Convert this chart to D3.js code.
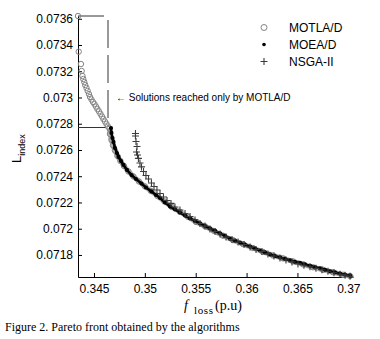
<!DOCTYPE html>
<html>
<head>
<meta charset="utf-8">
<style>
  body { margin: 0; background: #fff; }
</style>
</head>
<body>
<script src="https://cdn.jsdelivr.net/npm/d3@7"></script>
<script>

  const width = 380,
        height = 339

  // f_loss (p.u), L_index
  const motlad = [
    [0.34343, 0.073621], [0.34350, 0.073349], [0.34372, 0.073255], [0.34379, 0.073202],
    [0.34387, 0.073164], [0.34395, 0.073141], [0.34405, 0.073118], [0.34414, 0.073095],
    [0.34426, 0.073073], [0.34438, 0.073050], [0.34451, 0.073026], [0.34461, 0.073004],
    [0.34475, 0.072985], [0.34490, 0.072966], [0.34505, 0.072950], [0.34520, 0.072931],
    [0.34534, 0.072912], [0.34549, 0.072894], [0.34564, 0.072875], [0.34579, 0.072855],
    [0.34593, 0.072836], [0.34608, 0.072817], [0.34623, 0.072798], [0.34638, 0.072779],
    [0.34652, 0.072764], [0.34657, 0.072722], [0.34672, 0.072676], [0.34687, 0.072635],
    [0.34706, 0.072596], [0.34731, 0.072554], [0.34760, 0.072516], [0.34795, 0.072478],
    [0.34839, 0.072436], [0.34888, 0.072398], [0.34942, 0.072360], [0.35001, 0.072322],
    [0.35060, 0.072288], [0.35124, 0.072249], [0.35193, 0.072208], [0.35267, 0.072165],
    [0.35345, 0.072128], [0.35424, 0.072090], [0.35503, 0.072051], [0.35591, 0.072018],
    [0.35680, 0.071983], [0.35768, 0.071947], [0.35866, 0.071913], [0.35965, 0.071883],
    [0.36063, 0.071853], [0.36161, 0.071823], [0.36260, 0.071796], [0.36358, 0.071774],
    [0.36456, 0.071751], [0.36555, 0.071728], [0.36653, 0.071706], [0.36751, 0.071687],
    [0.36850, 0.071668], [0.36948, 0.071649], [0.37017, 0.071640]
  ]

  const moead = [
    [0.34667, 0.072767], [0.34672, 0.072730], [0.34682, 0.072691], [0.34692, 0.072661],
    [0.34706, 0.072616], [0.34726, 0.072577], [0.34741, 0.072547], [0.34765, 0.072516],
    [0.34790, 0.072486], [0.34824, 0.072448], [0.34869, 0.072409], [0.34913, 0.072379],
    [0.34967, 0.072344], [0.35011, 0.072314], [0.35065, 0.072284], [0.35110, 0.072257],
    [0.35149, 0.072234], [0.35198, 0.072200], [0.35247, 0.072169], [0.35296, 0.072147],
    [0.35345, 0.072124], [0.35395, 0.072100], [0.35444, 0.072078], [0.35493, 0.072059],
    [0.35542, 0.072040], [0.35591, 0.072020], [0.35640, 0.072002], [0.35690, 0.071983],
    [0.35739, 0.071964], [0.35788, 0.071945], [0.35837, 0.071924], [0.35886, 0.071909],
    [0.35935, 0.071894], [0.35984, 0.071879], [0.36034, 0.071864], [0.36083, 0.071849],
    [0.36132, 0.071834], [0.36181, 0.071819], [0.36230, 0.071804], [0.36279, 0.071792],
    [0.36329, 0.071781], [0.36378, 0.071770], [0.36427, 0.071759], [0.36476, 0.071747],
    [0.36525, 0.071740], [0.36574, 0.071728], [0.36624, 0.071717], [0.36673, 0.071706],
    [0.36722, 0.071698], [0.36771, 0.071687], [0.36820, 0.071676], [0.36869, 0.071668],
    [0.36918, 0.071657], [0.36968, 0.071649], [0.37017, 0.071642]
  ]

  const nsga2 = [
    [0.34908, 0.072726], [0.34908, 0.072707], [0.34913, 0.072665], [0.34923, 0.072627],
    [0.34918, 0.072585], [0.34928, 0.072562], [0.34937, 0.072536], [0.34952, 0.072501],
    [0.34967, 0.072471], [0.34987, 0.072436], [0.35011, 0.072406], [0.35036, 0.072379],
    [0.35065, 0.072348], [0.35090, 0.072322], [0.35119, 0.072295], [0.35149, 0.072268],
    [0.35183, 0.072242], [0.35218, 0.072215], [0.35257, 0.072193], [0.35296, 0.072165],
    [0.35345, 0.072143], [0.35395, 0.072116], [0.35444, 0.072093], [0.35493, 0.072067],
    [0.35542, 0.072040], [0.35591, 0.072020], [0.35640, 0.071998], [0.35690, 0.071979],
    [0.35739, 0.071960], [0.35798, 0.071936], [0.35857, 0.071917], [0.35916, 0.071898],
    [0.35975, 0.071879], [0.36034, 0.071860], [0.36093, 0.071841], [0.36151, 0.071826],
    [0.36210, 0.071808], [0.36269, 0.071792], [0.36328, 0.071777], [0.36387, 0.071762],
    [0.36446, 0.071747], [0.36505, 0.071732], [0.36564, 0.071721], [0.36623, 0.071710],
    [0.36682, 0.071698], [0.36741, 0.071687], [0.36800, 0.071676], [0.36859, 0.071664],
    [0.36918, 0.071653], [0.36968, 0.071646], [0.37017, 0.071638]
  ]

  const legendNames = ['MOTLA/D', 'MOEA/D', 'NSGA-II']

  const xTicks = [0.345, 0.35, 0.355, 0.36, 0.365, 0.37],
        xTickLabels = ['0.345', '0.35', '0.355', '0.36', '0.365', '0.37']
  const yTicks = [0.0718, 0.072, 0.0722, 0.0724, 0.0726, 0.0728, 0.073, 0.0732, 0.0734, 0.0736],
        yTickLabels = ['0.0718', '0.072', '0.0722', '0.0724', '0.0726', '0.0728', '0.073', '0.0732', '0.0734', '0.0736']

  // region reached only by MOTLA/D: [f_loss right edge, L_index bottom, L_index top]
  const onlyMotla = [0.34638, 0.072775, 0.073621]

  const sans = "'Liberation Sans', Arial, sans-serif",
        serif = "'Liberation Serif', 'Times New Roman', serif"

  const xScale = d3.scaleLinear()
    .domain([0.34343, 0.37046])
    .range([78, 353])

  const yScale = d3.scaleLinear()
    .domain([0.071632, 0.073621])
    .range([277, 16])

  const svg = d3.select("body")
    .append("svg")
      .attr("width", width)
      .attr("height", height)
      .style("display", "block")

  // axes, matlab style ticks pointing inside
  const xAxis = d3.axisBottom(xScale)
    .tickValues(xTicks)
    .tickFormat((d, i) => xTickLabels[i])
    .tickSizeInner(-4)
    .tickSizeOuter(0)
    .tickPadding(7)

  const yAxis = d3.axisLeft(yScale)
    .tickValues(yTicks)
    .tickFormat((d, i) => yTickLabels[i])
    .tickSizeInner(-4)
    .tickSizeOuter(0)
    .tickPadding(5)

  const gx = svg.append("g")
    .attr("transform", `translate(0, ${yScale.range()[0]})`)
    .call(xAxis)
  const gy = svg.append("g")
    .attr("transform", `translate(${xScale.range()[0]}, 0)`)
    .call(yAxis)

  for (const g of [gx, gy]) {
    g.selectAll("text")
      .style("font-family", sans)
      .style("font-size", "12px")
      .attr("fill", "#000")
    g.selectAll("line, path").attr("stroke", "#000")
  }

  // bracket around solutions only found by MOTLA/D
  const x0 = xScale.range()[0],
        xr = xScale(onlyMotla[0]),
        yb = yScale(onlyMotla[1]),
        yt = yScale(onlyMotla[2])
  svg.append("line")
    .attr("x1", x0).attr("x2", xr - 4)
    .attr("y1", yt).attr("y2", yt)
    .attr("stroke", "#333").attr("stroke-width", 1)
  svg.append("line")
    .attr("x1", xr).attr("x2", xr)
    .attr("y1", yt).attr("y2", yb)
    .attr("stroke", "#333").attr("stroke-width", 1)
    .attr("stroke-dasharray", "28,7")
    .attr("stroke-dashoffset", 31)
  svg.append("line")
    .attr("x1", x0).attr("x2", xr - 2)
    .attr("y1", yb + 0.5).attr("y2", yb + 0.5)
    .attr("stroke", "#333").attr("stroke-width", 1)

  svg.append("text")
    .attr("x", xr + 8)
    .attr("y", 100.5)
    .style("font-family", sans)
    .style("font-size", "10px")
    .attr("fill", "#000")
    .text("\u2190 Solutions reached only by MOTLA/D")

  // series
  const plot = svg.append("g")
  const line = d3.line()
    .x(d => xScale(d[0]))
    .y(d => yScale(d[1]))

  // the fronts are so dense that markers merge into a band
  plot.append("path")
    .datum(motlad.filter(d => d[1] < onlyMotla[1]))
    .attr("d", line)
    .attr("fill", "none")
    .attr("stroke", "#b0b0b0")
    .attr("stroke-width", 5)

  plot.selectAll(".motlad")
    .data(motlad)
    .enter()
    .append("circle")
      .attr("class", "motlad")
      .attr("cx", d => xScale(d[0]))
      .attr("cy", d => yScale(d[1]))
      .attr("r", 2.7)
      .attr("fill", "none")
      .attr("stroke", "#858585")
      .attr("stroke-width", 1)

  plot.append("path")
    .datum(moead)
    .attr("d", line)
    .attr("fill", "none")
    .attr("stroke", "#000")
    .attr("stroke-width", 2.6)

  plot.selectAll(".moead")
    .data(moead)
    .enter()
    .append("circle")
      .attr("class", "moead")
      .attr("cx", d => xScale(d[0]))
      .attr("cy", d => yScale(d[1]))
      .attr("r", 2.1)
      .attr("fill", "#000")

  const plus = "M-3.5,0H3.5M0,-3.5V3.5"
  plot.selectAll(".nsga2")
    .data(nsga2)
    .enter()
    .append("path")
      .attr("class", "nsga2")
      .attr("transform", d => `translate(${xScale(d[0])}, ${yScale(d[1])})`)
      .attr("d", plus)
      .attr("fill", "none")
      .attr("stroke", "#3c3c3c")
      .attr("stroke-width", 1.1)

  // legend
  const legend = svg.append("g")
    .attr("transform", "translate(264, 27.5)")

  legendNames.forEach((name, i) => {
    const row = legend.append("g").attr("transform", `translate(0, ${i * 17})`)
    if (i == 0) row.append("circle").attr("r", 3).attr("fill", "none").attr("stroke", "#858585")
    if (i == 1) row.append("circle").attr("r", 1.8).attr("fill", "#000")
    if (i == 2) row.append("path").attr("d", plus).attr("stroke", "#3c3c3c").attr("stroke-width", 1.1)
    row.append("text")
      .attr("x", 25)
      .attr("y", 4.3)
      .style("font-family", sans)
      .style("font-size", "12px")
      .attr("fill", "#000")
      .text(name)
  })

  // axis titles
  const ylab = svg.append("text")
    .attr("transform", "translate(21, 163) rotate(-90)")
    .style("font-family", sans)
    .attr("fill", "#000")
  ylab.append("tspan").style("font-size", "13px").text("L")
  ylab.append("tspan").style("font-size", "9px").attr("dy", 3.5).text("index")

  const xlab = svg.append("text")
    .attr("y", 310)
    .style("font-family", serif)
    .attr("fill", "#000")
  xlab.append("tspan").attr("x", 184).style("font-size", "14px").style("font-style", "italic").text("f")
  xlab.append("tspan").attr("x", 194).attr("dy", 4).style("font-size", "11px").style("letter-spacing", "0.6px").text("loss")
  xlab.append("tspan").attr("x", 215).attr("dy", -4).style("font-size", "14px").text("(p.u)")

  svg.append("text")
    .attr("x", 5)
    .attr("y", 331)
    .style("font-family", serif)
    .style("font-size", "12px")
    .attr("fill", "#000")
    .text("Figure 2. Pareto front obtained by the algorithms")

</script>
</body>
</html>
